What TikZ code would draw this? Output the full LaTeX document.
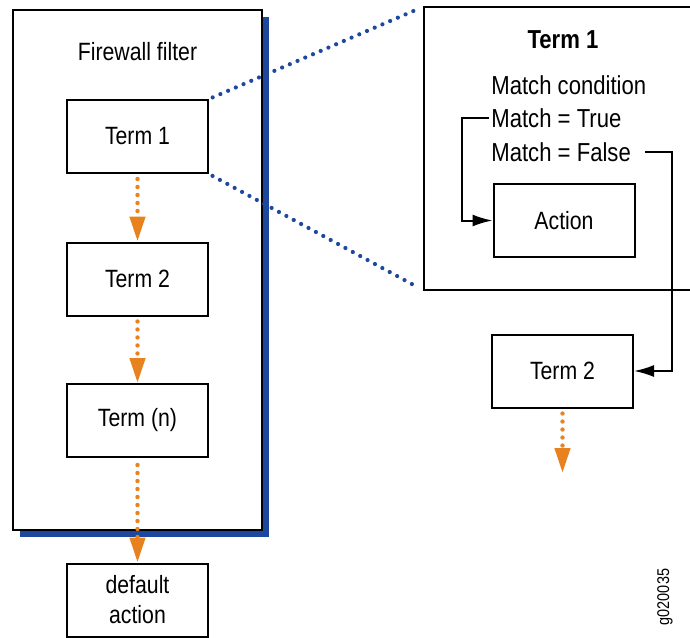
\documentclass[tikz,border=0pt]{standalone}
\usepackage{fontspec}
\setmainfont{Liberation Sans}[FakeStretch=0.85]
\usetikzlibrary{calc,%
                arrows.meta,%
                positioning}
\definecolor{jn-blue}{RGB}{30,72,160}
\definecolor{jn-orange}{RGB}{232,130,30}
\tikzset{
  termbox/.style={draw=black, fill=white, line width=1pt,
                  minimum width=70.5pt, minimum height=36.5pt,
                  font=\fontsize{12.5}{15}\selectfont, align=center},
  label/.style={font=\fontsize{13}{15}\selectfont, inner sep=1pt},
  next/.style={jn-orange, line width=2.2pt, line cap=round,
               dash pattern=on 0pt off 4pt,
               -{Triangle[width=7.5pt,length=12.5pt,fill=jn-orange]}},
  zoomline/.style={jn-blue, line width=2.1pt, line cap=round,
                   dash pattern=on 0pt off 4.2pt},
  flow/.style={black, line width=1pt, -{Latex[length=10pt,width=6pt]}},
}
\begin{document}
\begin{tikzpicture}[x=0.5pt, y=-0.5pt]
  \useasboundingbox (0,0) rectangle (690,637);

  % Firewall filter with shadow
  \node[draw=none, minimum width=124.5pt, minimum height=260pt] (frame) at (137.5,270) {};
  \fill[jn-blue] ($(frame.south west)+(7,7)$) rectangle ($(frame.north east)+(7,7)$);
  \draw[fill=white, line width=1pt] (frame.south west) rectangle (frame.north east);
  \node[font=\fontsize{12.5}{15}\selectfont] (title) at (137.5,52) {Firewall filter};

  \node[termbox] (t1) at (137.5,136.5) {Term 1};
  \node[termbox] (t2) at (137.5,279) {Term 2};
  \node[termbox] (tn) at (137.5,420.5) {Term (n)};
  \node[termbox] (def) at (137.5,600) {default\\action};

  \draw[next, shorten <=2.5pt] (t1) -- (t2);
  \draw[next, shorten <=2.5pt] (t2) -- (tn);
  \draw[next, shorten <=3.5pt] (tn) -- (def);

  % Term 1 in detail
  \node[draw=none, minimum width=138pt, minimum height=141.5pt] (detail) at (562,148.5) {};
  \draw[line width=1pt] (detail.north east) -- (detail.north west)
        -- (detail.south west) -- (detail.south east);

  \draw[zoomline, shorten <=2pt, shorten >=4pt] (t1.north east) -- (detail.north west);
  \draw[zoomline, shorten <=2pt, shorten >=4pt] (t1.south east) -- (detail.south west);

  \node[label, font=\bfseries\fontsize{13}{15}\selectfont] (dtitle) at (563,40) {Term 1};
  \node[label, anchor=west] (mcond) at (489,85) {Match condition};
  \node[label, anchor=west] (mtrue) at (489,118) {Match = True};
  \node[label, anchor=west] (mfalse) at (489,152) {Match = False};

  \node[termbox] (action) at (564,220.5) {Action};
  \node[termbox] (t2r) at (562.5,371) {Term 2};
  \coordinate (t2rnext) at (562.5,473);

  \draw[flow] (mtrue.west) -- ++(-27,0) |- (action.west);
  \draw[flow] ([xshift=6pt]mfalse.east) -- ++(27,0) |- (t2r.east);
  \draw[next, shorten <=2.5pt] (t2r) -- (t2rnext);

  % figure id
  \node[rotate=90, font=\fontsize{8.5}{10}\selectfont] (gid) at (665,597) {g020035};
\end{tikzpicture}
\end{document}
